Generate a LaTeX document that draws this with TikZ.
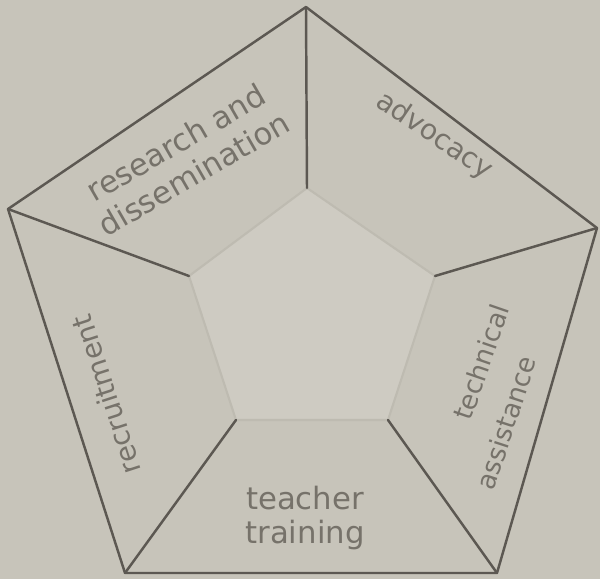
\documentclass[tikz,border=0pt]{standalone}
\usepackage{fontspec}
\setmainfont{DejaVu Sans}
\definecolor{paper}{RGB}{199,196,186}
\definecolor{ink}{RGB}{92,88,82}
\definecolor{faint}{RGB}{118,114,106}
\definecolor{hub}{RGB}{206,203,194}
\definecolor{hubline}{RGB}{190,187,177}

\begin{document}
\begin{tikzpicture}[x=0.02cm,y=-0.02cm,
  rim/.style={draw=ink,line width=1.4pt,line join=round,line cap=round},
  hubface/.style={fill=hub,draw=hubline,line width=1.2pt},
  sector/.style={text=faint,font=\fontsize{16}{18}\selectfont,inner sep=0pt,align=center}
]
  \fill[paper] (0,0) rectangle (600,579);
  \useasboundingbox (0,0) rectangle (600,579);

  \coordinate (o1) at (306,7);
  \coordinate (o2) at (8,209);
  \coordinate (o3) at (125,573);
  \coordinate (o4) at (497,573);
  \coordinate (o5) at (597,228);

  \coordinate (i1) at (307,188);
  \coordinate (i2) at (189,276);
  \coordinate (i3) at (236,420);
  \coordinate (i4) at (388,420);
  \coordinate (i5) at (435,276);

  \path[hubface] (i1) -- (i2) -- (i3) -- (i4) -- (i5) -- cycle;
  \draw[rim] (o1) -- (o2) -- (o3) -- (o4) -- (o5) -- cycle;

  \draw[rim] (o1) -- (i1);
  \draw[rim] (o2) -- (i2);
  \draw[rim] (o3) -- (i3);
  \draw[rim] (o4) -- (i4);
  \draw[rim] (o5) -- (i5);

  \node[sector,rotate=30,font=\fontsize{17.5}{20.5}\selectfont] (research) at (185,158) {research and\\dissemination};
  \node[sector,rotate=-34] (advocacy) at (434,136) {advocacy};
  \node[sector,rotate=71,font=\fontsize{15}{18}\selectfont] (technical) at (481,362) {technical};
  \node[sector,rotate=72,font=\fontsize{15}{18}\selectfont] (assistance) at (506,423) {assistance};
  \node[sector,font=\fontsize{17.5}{19.5}\selectfont] (training) at (305,518) {teacher\\training};
  \node[sector,rotate=108] (recruit) at (106,395) {recruitment};
\end{tikzpicture}
\end{document}
